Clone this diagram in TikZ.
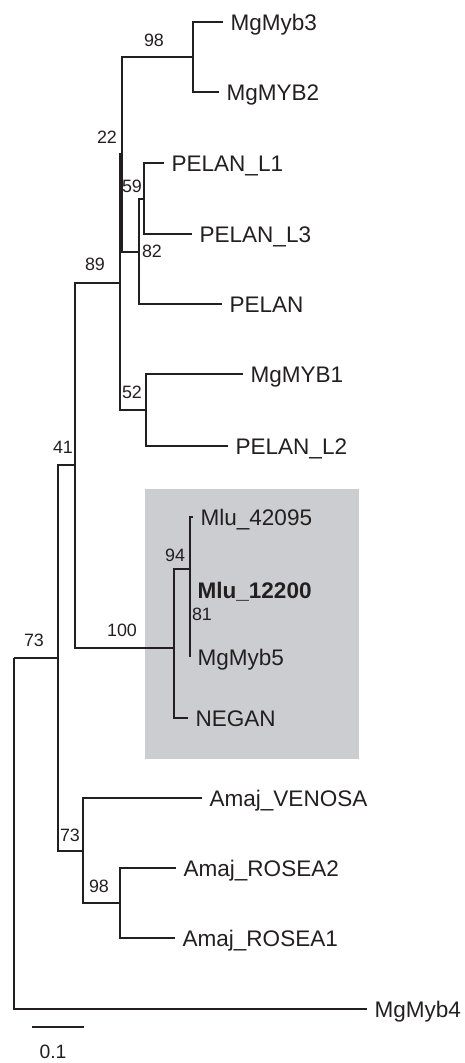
\documentclass[tikz,border=0pt]{standalone}
\usepackage{fontspec}
\setmainfont{Liberation Sans}
\definecolor{ink}{RGB}{35,31,32}
\definecolor{boxgrey}{RGB}{204,205,208}
\begin{document}
\begin{tikzpicture}[x=0.75pt, y=-0.75pt,
        branch/.style={draw=ink, line width=1.5pt},
        leaf/.style={anchor=west, inner xsep=5.5pt, inner ysep=0pt, text=ink,
            font=\fontsize{16.9}{18}\selectfont, text height=12.1pt, text depth=0pt},
        boot/.style={inner sep=0pt, text=ink,
            font=\fontsize{13.4}{15}\selectfont, text height=9.6pt, text depth=0pt}]
        \useasboundingbox (0,0) rectangle (464,1063);

        % Recuadro gris
        \fill[boxgrey] (145,489) rectangle (359,759);

        % Nodos internos
        \coordinate (root) at (14,658);
        \coordinate (n73a) at (58,658);
        \coordinate (n41) at (75,465);
        \coordinate (n89) at (120,283);
        \coordinate (n22) at (122,154);
        \coordinate (n98a) at (193,57);
        \coordinate (n82) at (139,252);
        \coordinate (n59) at (144,199);
        \coordinate (n52) at (146,410);
        \coordinate (n100) at (174,648);
        \coordinate (n94) at (190,569);
        \coordinate (n81) at (190,623);
        \coordinate (n73b) at (83,851);
        \coordinate (n98b) at (120,903);

        % Hojas
        \node[leaf] (MgMyb3) at (223,22) {MgMyb3};
        \node[leaf] (MgMYB2) at (219,92) {MgMYB2};
        \node[leaf] (PelanL1) at (164,163) {PELAN\_L1};
        \node[leaf] (PelanL3) at (192,234) {PELAN\_L3};
        \node[leaf] (Pelan) at (222,304) {PELAN};
        \node[leaf] (MgMYB1) at (243,374) {MgMYB1};
        \node[leaf] (PelanL2) at (228,446) {PELAN\_L2};
        \node[leaf] (Mlu42095) at (193,517) {Mlu\_42095};
        \node[leaf] (Mlu12200) at (190,590) {\bfseries Mlu\_12200};
        \node[leaf] (MgMyb5) at (190,657) {MgMyb5};
        \node[leaf] (Negan) at (188,718) {NEGAN};
        \node[leaf] (AmajVenosa) at (202,798) {Amaj\_VENOSA};
        \node[leaf] (AmajRosea2) at (176,868) {Amaj\_ROSEA2};
        \node[leaf] (AmajRosea1) at (175,938) {Amaj\_ROSEA1};
        \node[leaf] (MgMyb4) at (367,1009) {MgMyb4};

        % Ramas
        \foreach \p/\c in {root/n73a, root/MgMyb4.west, n73a/n41, n73a/n73b,
                n41/n89, n41/n100, n89/n22, n89/n52, n22/n98a, n22/n82,
                n98a/MgMyb3.west, n98a/MgMYB2.west, n82/n59, n82/Pelan.west,
                n59/PelanL1.west, n59/PelanL3.west, n52/MgMYB1.west, n52/PelanL2.west,
                n100/n94, n100/Negan.west, n94/Mlu42095.west, n94/n81,
                n81/Mlu12200.west, n81/MgMyb5.west, n73b/AmajVenosa.west, n73b/n98b,
                n98b/AmajRosea2.west, n98b/AmajRosea1.west} {
            \draw[branch] (\p) |- (\c);
        }

        % Soporte bootstrap
        \foreach \nm/\pos/\val in {b98a/{(154,40)}/98, b22/{(107,137)}/22, b59/{(132,186)}/59,
                b82/{(152,251)}/82, b89/{(95,264)}/89, b52/{(132,392)}/52, b41/{(63,447)}/41,
                b94/{(175,555)}/94, b81/{(202,614)}/81, b100/{(122,630)}/100,
                b73a/{(34,640)}/73, b73b/{(70,835)}/73, b98b/{(99,886)}/98} {
            \node[boot] (\nm) at \pos {\val};
        }

        % Escala
        \coordinate (sbL) at (32,1027);
        \coordinate (sbR) at (84,1027);
        \draw[branch] (sbL) -- (sbR);
        \node[inner sep=0pt, text=ink, font=\fontsize{14.5}{16}\selectfont,
            text height=10.4pt, text depth=0pt] (sbLab) at (53,1052) {0.1};
    \end{tikzpicture}
\end{document}
